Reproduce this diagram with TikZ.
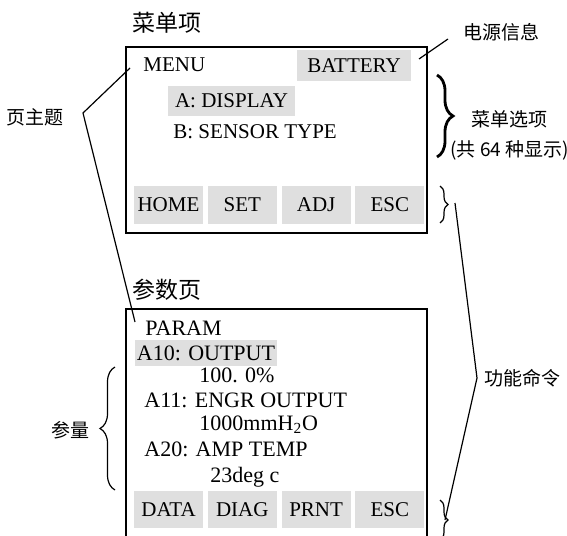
\documentclass[tikz,border=0pt]{standalone}
\usepackage{fontspec}
\setmainfont{Liberation Serif}
\newfontfamily\cjk{Noto Sans CJK SC}
\usetikzlibrary{positioning,decorations.pathreplacing}

\begin{document}
\begin{tikzpicture}[
    x=0.5pt, y=-0.5pt,
    node distance=2pt and 2pt,
    screen/.style={draw, line width=1.2pt, minimum width=150.5pt, inner sep=0pt},
    key/.style={fill=gray!25, minimum width=34.5pt, minimum height=19pt, inner sep=0pt, font=\fontsize{10.5}{12}\selectfont},
    hl/.style={fill=gray!25, inner sep=0pt, font=\fontsize{10.5}{12}\selectfont},
    txt/.style={anchor=base west, inner sep=0pt, font=\fontsize{10.5}{12}\selectfont},
    ptxt/.style={txt, font=\fontsize{11}{13}\selectfont},
    lbl/.style={font=\cjk\fontsize{9.5}{12}\selectfont, align=center},
    ttl/.style={font=\cjk\fontsize{11.5}{13}\selectfont},
    lead/.style={line width=0.6pt},
    brc/.style={decorate, decoration={brace, amplitude=#1}, line width=0.6pt}
]
\useasboundingbox (0,0) rectangle (567,535);

\node[ttl] (menuttl) at (167,23) {菜单项};
\node[screen, minimum height=93pt] (menuscr) at (276.5,140) {};
\node[txt] (menu) at (143,72) {MENU};
\node[hl, minimum width=57pt, minimum height=15.5pt] (batt) at (354,65.5) {BATTERY};
\node[hl, minimum width=63.5pt, minimum height=15pt] (disp) at (231.5,101) {A: DISPLAY};
\node[txt] (sensor) at (173,139) {B: SENSOR TYPE};
\node[key] (home) at (168.5,205) {HOME};
\node[key, right=of home] (set) {SET};
\node[key, right=of set] (adj) {ADJ};
\node[key, right=of adj] (esc) {ESC};

\node[ttl] (paramttl) at (167,290) {参数页};
\node[screen, minimum height=118pt] (paramscr) at (276.5,427) {};
\node[ptxt] (param) at (145,335) {PARAM};
\node[hl, minimum width=71pt, minimum height=13pt, font=\fontsize{11}{13}\selectfont] (a10) at (206,353) {A10: OUTPUT};
\node[ptxt] (a10val) at (199,382) {100. 0\%};
\node[ptxt] (a11) at (144,407) {A11: ENGR OUTPUT};
\node[ptxt] (a11val) at (199,430) {1000mmH\textsubscript{2}O};
\node[ptxt] (a20) at (144,456) {A20: AMP TEMP};
\node[ptxt] (a20val) at (210,482) {23deg c};
\node[key, minimum height=18.5pt] (data) at (168.5,509.5) {DATA};
\node[key, minimum height=18.5pt, right=of data] (diag) {DIAG};
\node[key, minimum height=18.5pt, right=of diag] (prnt) {PRNT};
\node[key, minimum height=18.5pt, right=of prnt] (pesc) {ESC};

\node[lbl] (power) at (501,32) {电源信息};
\node[lbl] (pagettl) at (35,117) {页主题};
\node[lbl, anchor=west, inner sep=0pt, font=\cjk\fontsize{9.5}{15}\selectfont] (opts) at (450,135) {菜单选项\\(共 64 种显示)};
\node[lbl, anchor=west] (func) at (477,378) {功能命令};
\node[lbl] (qty) at (70,430) {参量};

\coordinate (pw1) at (419,59);
\coordinate (pw2) at (448,39);
\coordinate (pk) at (83,113);
\coordinate (menutip) at (130,68);
\coordinate (paramtip) at (135,322);
\coordinate (fk1) at (455,203);
\coordinate (fk2) at (445,520);

\draw[lead] (pw1) -- (pw2);
\draw[lead] (menutip) -- (pk) -- (paramtip);
\draw[lead] (fk1) -- (func.west) -- (fk2);

\draw[brc=8pt, line width=1.4pt] (437,75) -- (437,157);
\draw[brc=4pt] (440,186) -- (440,223);
\draw[brc=4pt] (440,500) -- (440,540);
\draw[brc=7.5pt] (115,490) -- (115,367);
\end{tikzpicture}
\end{document}
